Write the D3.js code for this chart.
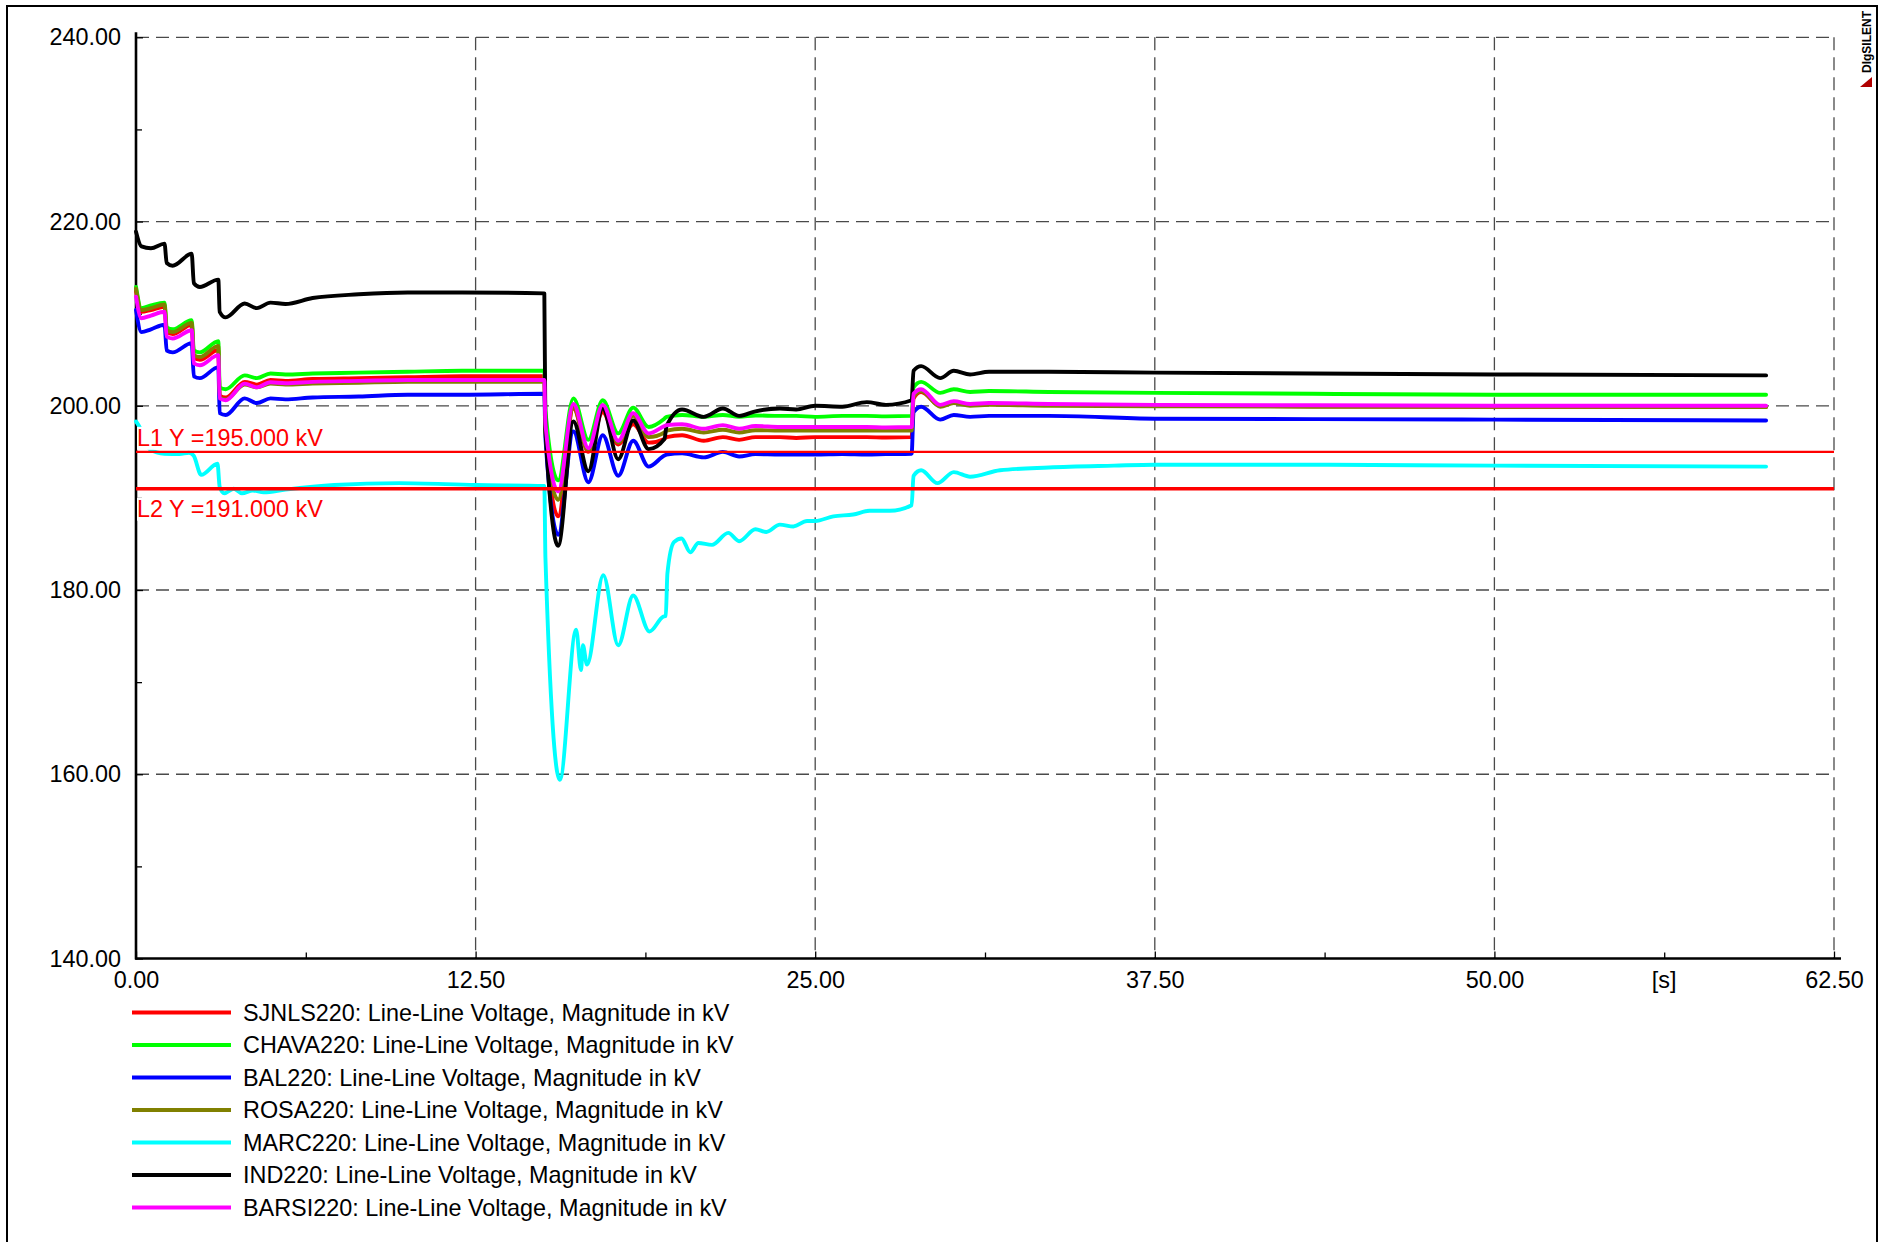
<!DOCTYPE html>
<html>
<head>
<meta charset="utf-8">
<script src="https://cdn.jsdelivr.net/npm/d3@7"></script>
<style>
  html, body { margin: 0; padding: 0; background: #fff; }
  svg { display: block; }
  text { font-family: "Liberation Sans", Arial, sans-serif; }
</style>
</head>
<body>
<svg id="chart" width="1888" height="1242"></svg>
<script>
// ---------------- DATA ----------------
const seriesNames = ["SJNLS220", "CHAVA220", "BAL220", "ROSA220", "MARC220", "IND220", "BARSI220"];
const legendSuffix = ": Line-Line Voltage, Magnitude in kV";
const seriesColors = ["#ff0000", "#00ff00", "#0000ff", "#808000", "#00ffff", "#000000", "#ff00ff"];

const xTicks = [0, 12.5, 25, 37.5, 50, 62.5];
const xMinorTicks = [6.25, 18.75, 31.25, 43.75, 56.25];
const xUnitLabel = "[s]";
const xUnitPos = 56.25;
const yTicks = [140, 160, 180, 200, 220, 240];
const yMinorTicks = [150, 170, 190, 210, 230];

const refValues = [195, 191];
const refLabels = ["L1 Y =195.000 kV", "L2 Y =191.000 kV"];

// shared time base (s) for six busbars
const tMain = [0, 0.2, 0.55, 1.05, 1.13, 1.35, 2.05, 2.13, 2.35, 3.03, 3.08, 3.3, 4.0, 4.45, 4.95, 5.5, 6.5, 8.2, 10, 12,
  15.03, 15.07, 15.54, 16.1, 16.65, 17.18, 17.75, 18.3, 18.87, 19.45, 19.53, 20.1, 20.9, 21.6, 22.2, 22.8, 23.7, 24.3,
  25.0, 26.0, 26.9, 27.6, 28.55, 28.62, 28.9, 29.6, 30.1, 30.7, 31.4, 33.6, 37.5, 43.3, 50, 60];

const vSJNLS = [212.45, 210.2, 210.4, 210.75, 208.0, 207.8, 208.8, 205.2, 205.0, 206.05, 201.1, 200.9, 202.6, 202.3, 202.8, 202.7, 202.9, 203.0, 203.1, 203.2,
  203.2, 197.5, 188.0, 199.7, 195.0, 199.3, 195.8, 198.0, 196.0, 196.4, 196.6, 196.8, 196.2, 196.6, 196.3, 196.6, 196.6, 196.5,
  196.6, 196.6, 196.6, 196.55, 196.6, 200.8, 201.5, 200.0, 200.4, 200.1, 200.2, 200.1, 200.0, 199.95, 199.9, 199.9];

const vCHAVA = [212.9, 210.6, 210.9, 211.2, 208.5, 208.3, 209.3, 206.0, 205.8, 207.0, 202.0, 201.8, 203.3, 203.0, 203.5, 203.4, 203.5, 203.6, 203.7, 203.8,
  203.8, 199.5, 191.9, 200.8, 196.3, 200.6, 197.0, 199.8, 197.7, 198.6, 198.8, 199.0, 198.8, 199.0, 198.8, 198.95, 198.9, 198.9,
  198.8, 198.9, 198.9, 198.85, 198.9, 202.0, 202.6, 201.4, 201.8, 201.5, 201.6, 201.5, 201.4, 201.3, 201.2, 201.2];

const vBAL = [210.4, 208.0, 208.3, 208.8, 206.0, 205.8, 206.8, 203.2, 203.0, 204.2, 199.2, 199.0, 200.8, 200.3, 200.8, 200.7, 200.9, 201.0, 201.2, 201.2,
  201.3, 196.5, 186.0, 197.2, 191.7, 196.8, 192.4, 196.2, 193.4, 194.6, 194.7, 194.85, 194.4, 195.0, 194.5, 194.75, 194.7, 194.7,
  194.7, 194.75, 194.7, 194.75, 194.8, 199.3, 199.9, 198.5, 199.0, 198.8, 198.9, 198.9, 198.6, 198.55, 198.5, 198.4];

const vROSA = [212.7, 210.4, 210.6, 211.0, 208.2, 208.0, 209.0, 205.5, 205.3, 206.5, 200.9, 200.7, 202.3, 202.0, 202.4, 202.3, 202.4, 202.5, 202.6, 202.6,
  202.6, 197.0, 189.8, 199.8, 195.1, 199.8, 196.0, 198.9, 196.6, 197.1, 197.3, 197.5, 197.1, 197.4, 197.1, 197.35, 197.3, 197.3,
  197.3, 197.3, 197.3, 197.3, 197.3, 201.0, 201.6, 199.9, 200.3, 200.0, 200.1, 200.0, 199.95, 199.9, 199.9, 199.85];

const vIND = [218.9, 217.3, 217.1, 217.6, 215.5, 215.2, 216.5, 213.3, 212.9, 213.7, 210.2, 209.6, 211.1, 210.6, 211.2, 211.05, 211.7, 212.1, 212.3, 212.3,
  212.2, 197.5, 184.8, 198.3, 192.9, 199.7, 194.2, 198.4, 195.3, 196.4, 197.8, 199.6, 198.8, 199.7, 198.9, 199.4, 199.7, 199.6,
  200.0, 199.9, 200.4, 200.1, 200.6, 203.8, 204.3, 203.0, 203.8, 203.4, 203.7, 203.7, 203.6, 203.5, 203.4, 203.3];

const vBARSI = [211.85, 209.5, 209.8, 210.2, 207.5, 207.3, 208.2, 204.6, 204.4, 205.5, 200.8, 200.6, 202.4, 202.0, 202.55, 202.45, 202.6, 202.7, 202.8, 202.8,
  202.8, 198.0, 190.7, 200.2, 195.4, 200.1, 196.2, 199.2, 197.0, 197.8, 197.9, 198.0, 197.5, 197.9, 197.5, 197.8, 197.7, 197.7,
  197.7, 197.7, 197.7, 197.65, 197.7, 201.3, 201.8, 200.1, 200.5, 200.2, 200.3, 200.2, 200.1, 200.05, 200.0, 200.0];

// MARC220 has its own time base
const tMARC = [0, 0.15, 0.5, 1.05, 1.6, 1.95, 2.12, 2.4, 3.0, 3.08, 3.25, 3.6, 3.9, 4.3, 4.7, 5.5, 7.3, 9.7, 12.5, 15.03,
  15.07, 15.6, 16.2, 16.38, 16.45, 16.6, 17.2, 17.75, 18.3, 18.9, 19.4, 19.5, 19.56, 19.8, 20.08, 20.4, 20.7, 21.2, 21.8,
  22.2, 22.8, 23.2, 23.7, 24.2, 24.7, 25.0, 25.67, 26.4, 27.0, 27.75, 28.55, 28.62, 28.9, 29.5, 30.1, 30.7, 31.8, 33.6,
  36, 37.5, 43.3, 50, 60];
const vMARC = [198.3, 197.6, 195.3, 194.8, 194.75, 194.9, 194.6, 192.5, 193.7, 191.2, 190.5, 191.0, 190.5, 190.8, 190.6, 190.9, 191.4, 191.6, 191.4, 191.3,
  183.5, 159.4, 175.7, 171.3, 174.0, 171.9, 181.6, 174.0, 179.4, 175.5, 177.1, 177.2, 181.8, 185.2, 185.6, 184.1, 185.1, 184.9, 186.2,
  185.3, 186.6, 186.3, 187.1, 186.9, 187.5, 187.5, 188.0, 188.2, 188.6, 188.6, 189.2, 192.4, 193.0, 191.6, 192.8, 192.3, 193.0, 193.3,
  193.5, 193.6, 193.6, 193.5, 193.4];

const seriesTimes = [tMain, tMain, tMain, tMain, tMARC, tMain, tMain];
const seriesValues = [vSJNLS, vCHAVA, vBAL, vROSA, vMARC, vIND, vBARSI];

// ---------------- DRAW ----------------
const svg = d3.select("#chart");
const FONT = 23.4;
const x = d3.scaleLinear().domain([0, 62.5]).range([136, 1834]);
const y = d3.scaleLinear().domain([140, 240]).range([958.5, 37.3]);

svg.append("rect").attr("width", 1888).attr("height", 1242).attr("fill", "#fff");
// outer frame
svg.append("rect").attr("x", 7).attr("y", 6).attr("width", 1870).attr("height", 1260)
  .attr("fill", "none").attr("stroke", "#000").attr("stroke-width", 2);

// grid
const grid = svg.append("g").attr("stroke", "#4a4a4a").attr("stroke-width", 1.3)
  .attr("stroke-dasharray", "13,7").attr("fill", "none");
grid.selectAll(".vg").data(xTicks).join("line")
  .attr("x1", d => x(d)).attr("x2", d => x(d))
  .attr("y1", y(240)).attr("y2", y(140));
grid.selectAll(".hg").data(yTicks.filter(d => d > 140)).join("line")
  .attr("x1", x(0)).attr("x2", x(62.5))
  .attr("y1", d => y(d)).attr("y2", d => y(d));

// x axis
const xAxis = d3.axisBottom(x).tickValues(xTicks).tickFormat(d3.format(".2f"))
  .tickSizeInner(-7).tickSizeOuter(0).tickPadding(13);
const gx = svg.append("g").attr("transform", `translate(0,${y(140)})`).call(xAxis);
gx.select(".domain").remove();
gx.selectAll(".tick line").attr("stroke", "#000").attr("stroke-width", 1.3);
gx.selectAll(".tick text").attr("font-size", FONT).attr("fill", "#000")
  .style("font-family", "'Liberation Sans', Arial, sans-serif");
const xMinor = d3.axisBottom(x).tickValues(xMinorTicks).tickFormat("").tickSizeInner(-6).tickSizeOuter(0);
const gxm = svg.append("g").attr("transform", `translate(0,${y(140)})`).call(xMinor);
gxm.select(".domain").remove();
gxm.selectAll(".tick line").attr("stroke", "#000").attr("stroke-width", 1.3);
svg.append("text").attr("x", x(xUnitPos)).attr("y", y(140) + 13).attr("dy", "0.71em")
  .attr("text-anchor", "middle").attr("font-size", FONT).text(xUnitLabel);
svg.append("line").attr("x1", x(0) - 1).attr("x2", x(62.5) + 7)
  .attr("y1", y(140)).attr("y2", y(140)).attr("stroke", "#000").attr("stroke-width", 2.6);

// y axis
const yAxis = d3.axisLeft(y).tickValues(yTicks).tickFormat(d3.format(".2f"))
  .tickSizeInner(-7).tickSizeOuter(0).tickPadding(15);
const gy = svg.append("g").attr("transform", `translate(${x(0)},0)`).call(yAxis);
gy.select(".domain").remove();
gy.selectAll(".tick line").attr("stroke", "#000").attr("stroke-width", 1.3);
gy.selectAll(".tick text").attr("font-size", FONT).attr("fill", "#000")
  .style("font-family", "'Liberation Sans', Arial, sans-serif");
const yMinor = d3.axisLeft(y).tickValues(yMinorTicks).tickFormat("").tickSizeInner(-6).tickSizeOuter(0);
const gym = svg.append("g").attr("transform", `translate(${x(0)},0)`).call(yMinor);
gym.select(".domain").remove();
gym.selectAll(".tick line").attr("stroke", "#000").attr("stroke-width", 1.3);
svg.append("line").attr("x1", x(0)).attr("x2", x(0))
  .attr("y1", y(240) - 5).attr("y2", y(140) + 1).attr("stroke", "#000").attr("stroke-width", 2.6);

// series
const line = d3.line().x(d => x(d[0])).y(d => y(d[1])).curve(d3.curveMonotoneX);
const plot = svg.append("g").attr("fill", "none").attr("stroke-width", 3.9)
  .attr("stroke-linejoin", "round").attr("stroke-linecap", "round");
seriesNames.forEach((name, i) => {
  const pts = seriesTimes[i].map((t, k) => [t, seriesValues[i][k]]);
  plot.append("path").datum(pts).attr("d", line).attr("stroke", seriesColors[i]);
});

// reference lines
const refW = [2.4, 3.4];
refValues.forEach((v, i) => {
  svg.append("line").attr("x1", x(0)).attr("x2", x(62.5))
    .attr("y1", y(v)).attr("y2", y(v)).attr("stroke", "#ff0000").attr("stroke-width", refW[i]);
});
// labels: L1 above, L2 below its line
const lab1 = svg.append("text").attr("x", x(0) + 1).attr("y", y(refValues[0]) - 6)
  .attr("font-size", FONT).attr("fill", "#ff0000").text(refLabels[0]);
const lab2 = svg.append("text").attr("x", x(0) + 1).attr("y", y(refValues[1]) + 28)
  .attr("font-size", FONT).attr("fill", "#ff0000").text(refLabels[1]);
[lab1, lab2].forEach(l => {
  const b = l.node().getBBox();
  svg.insert("rect", () => l.node()).attr("x", b.x).attr("y", b.y + 2)
    .attr("width", b.width).attr("height", b.height - 3).attr("fill", "#fff");
});

// legend
const lg = svg.append("g");
seriesNames.forEach((name, i) => {
  const ly = 1012.5 + i * 32.5;
  lg.append("line").attr("x1", 132).attr("x2", 231).attr("y1", ly).attr("y2", ly)
    .attr("stroke", seriesColors[i]).attr("stroke-width", 4);
  lg.append("text").attr("x", 243).attr("y", ly).attr("dy", "0.35em")
    .attr("font-size", FONT).attr("fill", "#000").text(name + legendSuffix);
});

// logo
svg.append("text").attr("transform", "translate(1871,73) rotate(-90)")
  .attr("font-size", 12).attr("font-weight", "bold").attr("fill", "#000").text("DIgSILENT");
svg.append("polygon").attr("points", "1860,87 1872,77 1872,87").attr("fill", "#b00000");
</script>
</body>
</html>
